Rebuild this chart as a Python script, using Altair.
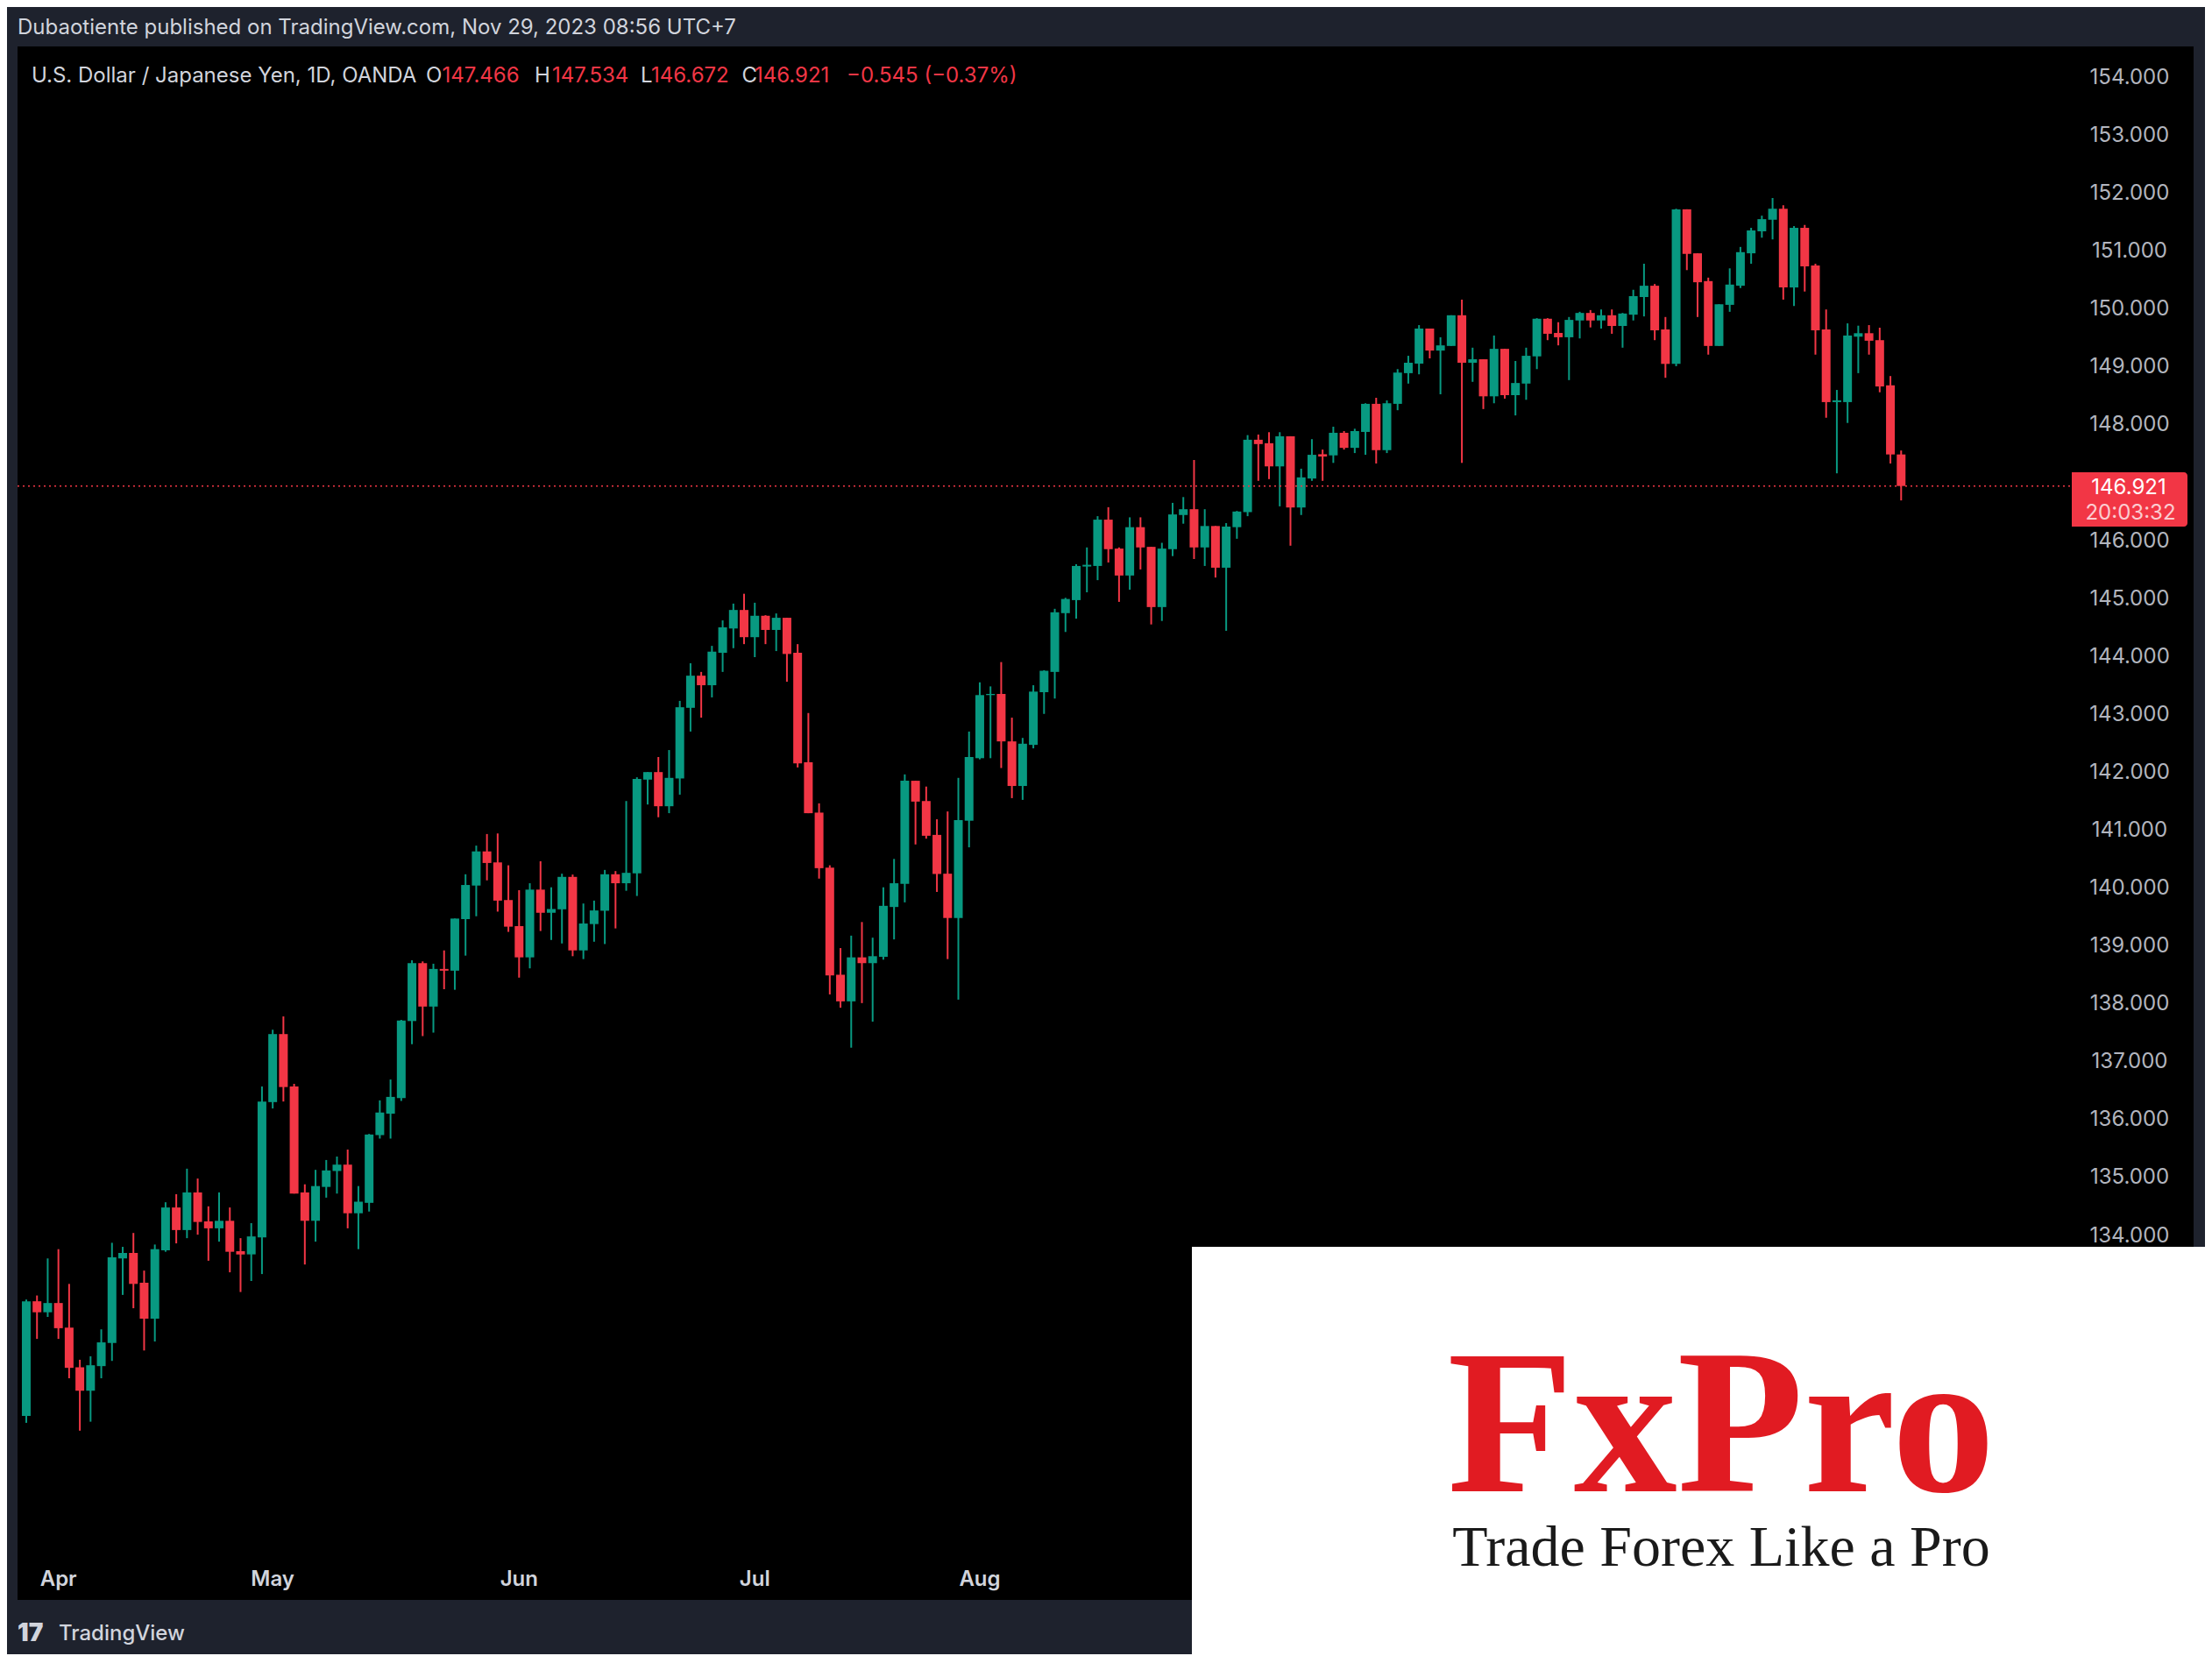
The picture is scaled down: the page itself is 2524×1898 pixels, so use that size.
import altair as alt
import pandas as pd

# ---------------- data (USD/JPY daily, OANDA) ----------------
opens = [130.86, 132.84, 132.65, 132.81, 132.385, 131.70, 131.295, 131.72, 132.12, 133.58,
         133.675, 133.16, 132.54, 133.72, 134.46, 134.07, 134.72, 134.22, 134.10, 134.23,
         133.705, 133.65, 133.945, 136.28, 137.455, 136.55, 134.72, 134.23, 134.815, 135.09,
         135.20, 134.36, 134.54, 135.71, 136.08, 136.35, 137.68, 138.68, 137.93, 138.58,
         138.55, 139.44, 140.02, 140.61, 140.42, 139.77, 139.32, 138.78, 139.95, 139.55,
         139.61, 140.17, 138.90, 139.355, 139.585, 140.215, 140.06, 140.23, 141.85, 141.98,
         141.39, 141.87, 143.09, 143.645, 143.48, 144.04, 144.46, 144.78, 144.31, 144.68,
         144.435, 144.645, 144.04, 142.15, 141.28, 140.33, 138.48, 138.02, 138.78, 138.68,
         138.79, 139.65, 140.05, 141.83, 141.48, 140.895, 140.225, 139.46, 141.14, 142.22,
         143.31, 143.33, 142.51, 141.74, 142.45, 143.36, 143.71, 144.725, 144.95, 145.53,
         145.54, 146.34, 145.84, 145.375, 146.21, 145.87, 144.83, 145.83, 146.42, 146.52,
         145.86, 146.23, 145.51, 146.21, 146.47, 147.72, 147.66, 147.26, 147.78, 146.55,
         147.05, 147.47, 147.45, 147.84, 147.58, 147.855, 148.34, 147.54, 148.34, 148.87,
         149.035, 149.64, 149.26, 149.34, 149.87, 149.05, 149.11, 148.47, 149.29, 148.49,
         148.69, 149.16, 149.81, 149.565, 149.49, 149.78, 149.91, 149.78, 149.87, 149.685,
         149.88, 150.185, 150.38, 149.625, 149.03, 151.70, 150.94, 150.46, 149.34, 150.05,
         150.38, 150.94, 151.32, 151.52, 151.71, 150.35, 151.38, 150.73, 149.625, 148.37,
         148.37, 149.50, 149.56, 149.44, 148.66, 147.466]
highs = [132.87, 132.94, 133.58, 133.74, 133.14, 131.83, 131.89, 132.355, 133.85, 133.78,
         134.02, 133.37, 133.82, 134.55, 134.69, 135.13, 134.96, 134.48, 134.72, 134.46,
         133.93, 134.19, 136.55, 137.53, 137.76, 136.595, 134.86, 135.11, 135.28, 135.34,
         135.46, 134.83, 135.73, 136.31, 136.67, 137.70, 138.73, 138.71, 138.67, 138.90,
         139.45, 140.215, 140.71, 140.91, 140.92, 140.37, 139.94, 140.06, 140.44, 139.99,
         140.225, 140.21, 139.71, 139.76, 140.29, 140.27, 141.48, 141.89, 141.98, 142.24,
         142.36, 143.21, 143.86, 143.71, 144.16, 144.60, 144.89, 145.06, 144.905, 144.69,
         144.72, 144.645, 144.19, 143.00, 141.44, 140.37, 138.94, 139.155, 139.39, 139.12,
         139.99, 140.48, 141.94, 141.83, 141.73, 141.165, 141.30, 141.88, 142.68, 143.53,
         143.46, 143.88, 142.92, 142.57, 143.48, 143.74, 144.80, 144.99, 145.57, 145.86,
         146.40, 146.555, 145.86, 146.38, 146.38, 145.87, 145.94, 146.63, 146.73, 147.37,
         146.52, 146.23, 146.28, 146.49, 147.80, 147.81, 147.85, 147.85, 147.78, 147.22,
         147.73, 147.55, 147.945, 147.87, 147.91, 148.35, 148.445, 148.40, 148.94, 149.17,
         149.70, 149.64, 149.49, 149.87, 150.14, 149.31, 149.11, 149.52, 149.29, 149.08,
         149.31, 149.82, 149.82, 149.75, 149.84, 149.93, 149.96, 149.97, 149.97, 149.91,
         150.31, 150.76, 150.41, 149.84, 151.71, 151.70, 150.94, 150.52, 150.06, 150.68,
         151.05, 151.38, 151.59, 151.895, 151.77, 151.41, 151.43, 150.76, 149.97, 148.58,
         149.73, 149.69, 149.70, 149.655, 148.82, 147.534]
lows = [130.74, 132.19, 132.57, 132.19, 131.51, 130.605, 130.76, 131.51, 131.81, 132.95,
        132.72, 131.99, 132.145, 133.695, 133.84, 133.93, 133.99, 133.54, 133.87, 133.34,
        133.00, 133.19, 133.31, 136.17, 136.29, 134.70, 133.475, 133.87, 134.63, 134.70,
        134.10, 133.74, 134.39, 135.65, 135.65, 136.30, 137.28, 137.42, 137.48, 138.23,
        138.22, 138.81, 139.49, 140.11, 139.57, 139.22, 138.43, 138.59, 139.235, 139.08,
        139.02, 138.80, 138.75, 139.05, 139.01, 139.28, 139.93, 139.84, 141.42, 141.20,
        141.27, 141.59, 142.68, 142.92, 143.27, 143.71, 144.12, 144.19, 143.965, 144.19,
        144.07, 143.54, 142.06, 141.27, 140.14, 138.14, 137.91, 137.22, 137.99, 137.67,
        138.74, 139.09, 139.73, 140.73, 140.83, 139.91, 138.75, 138.05, 140.68, 142.20,
        142.22, 142.05, 141.53, 141.50, 142.39, 142.985, 143.25, 144.40, 144.63, 145.085,
        145.295, 145.60, 144.92, 145.13, 145.48, 144.53, 144.59, 145.71, 146.27, 145.66,
        145.54, 145.34, 144.42, 146.01, 146.40, 147.01, 147.04, 146.57, 145.89, 146.42,
        147.01, 147.01, 147.32, 147.55, 147.49, 147.46, 147.31, 147.49, 148.23, 148.69,
        148.85, 149.125, 148.505, 149.34, 147.32, 148.72, 148.25, 148.35, 148.43, 148.14,
        148.41, 148.94, 149.44, 149.35, 148.75, 149.47, 149.66, 149.64, 149.55, 149.31,
        149.78, 149.85, 149.44, 148.79, 148.99, 150.65, 149.84, 149.19, 149.34, 149.93,
        150.34, 150.76, 151.21, 151.18, 150.14, 150.03, 150.28, 149.19, 148.10, 147.14,
        148.01, 148.87, 149.19, 148.54, 147.31, 146.672]
closes = [132.84, 132.65, 132.81, 132.375, 131.69, 131.295, 131.735, 132.13, 133.60, 133.675,
          133.14, 132.54, 133.74, 134.46, 134.07, 134.72, 134.21, 134.10, 134.23, 133.695,
          133.65, 133.96, 136.29, 137.455, 136.54, 134.70, 134.23, 134.83, 135.10, 135.20,
          134.36, 134.56, 135.72, 136.10, 136.37, 137.69, 138.68, 137.93, 138.58, 138.55,
          139.45, 140.03, 140.61, 140.41, 139.76, 139.31, 138.78, 139.95, 139.55, 139.615,
          140.17, 138.90, 139.365, 139.59, 140.215, 140.06, 140.24, 141.86, 141.98, 141.39,
          141.88, 143.10, 143.645, 143.48, 144.06, 144.48, 144.78, 144.31, 144.68, 144.435,
          144.645, 144.02, 142.13, 141.27, 140.32, 138.47, 138.02, 138.78, 138.68, 138.80,
          139.67, 140.06, 141.83, 141.47, 140.88, 140.22, 139.46, 141.15, 142.24, 143.31,
          143.33, 142.51, 141.74, 142.47, 143.37, 143.73, 144.74, 144.97, 145.54, 145.56,
          146.34, 145.83, 145.375, 146.21, 145.86, 144.83, 145.84, 146.43, 146.52, 145.86,
          146.23, 145.51, 146.22, 146.48, 147.72, 147.645, 147.26, 147.78, 146.55, 147.07,
          147.46, 147.43, 147.84, 147.58, 147.87, 148.34, 147.54, 148.35, 148.88, 149.05,
          149.64, 149.26, 149.35, 149.87, 149.05, 149.11, 148.47, 149.29, 148.49, 148.70,
          149.17, 149.81, 149.55, 149.49, 149.79, 149.91, 149.78, 149.87, 149.685, 149.90,
          150.20, 150.38, 149.61, 149.03, 151.70, 150.93, 150.44, 149.34, 150.06, 150.40,
          150.96, 151.335, 151.53, 151.71, 150.35, 151.38, 150.715, 149.61, 148.37, 148.40,
          149.52, 149.56, 149.43, 148.64, 147.466, 146.921]

month_names = ["Apr", "May", "Jun", "Jul", "Aug", "Sep", "Oct", "Nov"]
month_starts = [3, 23, 46, 68, 89, 112, 133, 155]   # bar index of first trading day
# 147.000 is hidden behind the last-price tag in the reference
price_ticks = [134, 135, 136, 137, 138, 139, 140, 141, 142, 143, 144,
               145, 146, 148, 149, 150, 151, 152, 153, 154]

title_text = "Dubaotiente published on TradingView.com, Nov 29, 2023 08:56 UTC+7"
symbol_text = "U.S. Dollar / Japanese Yen, 1D, OANDA"
timer_text = "20:03:32"

# ---------------- styling ----------------
GREEN = "#089981"
RED = "#f23645"
FRAME = "#1e222d"
UI_FONT = "Inter"
W, H = 2483, 1773

xs = alt.Scale(domain=[-0.4074, 201.89], nice=False, zero=False)
ys = alt.Scale(domain=[127.682, 154.513], nice=False, zero=False)

df = pd.DataFrame({"i": list(range(len(opens))), "open": opens, "high": highs,
                   "low": lows, "close": closes})
df["dir"] = ["up" if c >= o else "down" for o, c in zip(opens, closes)]
col = alt.Color("dir:N", scale=alt.Scale(domain=["up", "down"], range=[GREEN, RED]), legend=None)

wicks = alt.Chart(df).mark_rule(strokeWidth=2).encode(
    x=alt.X("i:Q", scale=xs, axis=None),
    y=alt.Y("low:Q", scale=ys, axis=None),
    y2="high:Q",
    color=col,
)
bodies = alt.Chart(df).mark_bar(size=10).encode(
    x=alt.X("i:Q", scale=xs, axis=None),
    y=alt.Y("open:Q", scale=ys, axis=None),
    y2="close:Q",
    color=col,
)

last = closes[-1]
prev = closes[-2]
chg = last - prev
pct = chg / prev * 100

def fmt_signed(v, dec):
    s = f"{abs(v):.{dec}f}"
    return ("\u2212" if v < 0 else "+") + s

last_df = pd.DataFrame({"p": [last], "label": [f"{last:.3f}"]})

price_line = alt.Chart(last_df).mark_rule(strokeDash=[2, 4], strokeWidth=1.5, color=RED).encode(
    y=alt.Y("p:Q", scale=ys, axis=None), x=alt.value(0), x2=alt.value(2344))

tick_df = pd.DataFrame({"p": price_ticks, "label": [f"{p:.3f}" for p in price_ticks]})
ylabels = alt.Chart(tick_df).mark_text(font=UI_FONT, fontSize=24, color="#b2b5be",
                                       align="center", baseline="middle", dy=2).encode(
    y=alt.Y("p:Q", scale=ys, axis=None), x=alt.value(2410), text="label:N")

tag_box = alt.Chart(last_df).mark_rect(color=RED, cornerRadiusTopRight=4,
                                       cornerRadiusBottomRight=4).encode(
    x=alt.value(2344), x2=alt.value(2476), y=alt.value(486), y2=alt.value(548))
tag_price = alt.Chart(last_df).mark_text(font=UI_FONT, fontSize=24, color="#ffffff",
                                         align="center", baseline="middle", dy=2).encode(
    y=alt.Y("p:Q", scale=ys, axis=None), x=alt.value(2409), text="label:N")
tag_timer = alt.Chart(last_df).mark_text(font=UI_FONT, fontSize=24, color="#ffffff", opacity=0.75,
                                         align="center", baseline="alphabetic").encode(
    y=alt.value(540), x=alt.value(2411), text=alt.value(timer_text))

month_df = pd.DataFrame({"i": month_starts, "m": month_names})
months = alt.Chart(month_df).mark_text(font=UI_FONT, fontSize=24, fontWeight=600, color="#d1d4dc",
                                       align="center", baseline="alphabetic").encode(
    x=alt.X("i:Q", scale=xs, axis=None), y=alt.value(1757), text="m:N")

# header line: labels grey, values red
header_texts = [symbol_text, "O", f"{opens[-1]:.3f}", "H", f"{highs[-1]:.3f}", "L",
                f"{lows[-1]:.3f}", "C", f"{last:.3f}",
                f"{fmt_signed(chg, 3)} ({fmt_signed(pct, 2)}%)"]
header_colors = ["#d1d4dc", "#d1d4dc", RED, "#d1d4dc", RED, "#d1d4dc", RED, "#d1d4dc", RED, RED]
header_x = [16, 466, 484.6, 590, 610, 711, 723, 826.6, 841, 946]   # layout
hdr_df = pd.DataFrame({"t": header_texts, "c": header_colors, "px": header_x})
header = alt.Chart(hdr_df).mark_text(font=UI_FONT, fontSize=24, align="left",
                                     baseline="alphabetic").encode(
    x=alt.X("px:Q", scale=None), y=alt.value(41), text="t:N", color=alt.Color("c:N", scale=None))

one = pd.DataFrame({"k": [0]})
title = alt.Chart(one).mark_text(font=UI_FONT, fontSize=24, color="#d1d4dc", align="left",
                                 baseline="alphabetic").encode(
    x=alt.value(0), y=alt.value(-14), text=alt.value(title_text))

footer_icon = alt.Chart(one).mark_text(font=UI_FONT, fontSize=28, fontWeight=900, color="#d1d4dc",
                                       align="left", baseline="alphabetic").encode(
    x=alt.value(0), y=alt.value(1820), text=alt.value("17"))
footer_text = alt.Chart(one).mark_text(font=UI_FONT, fontSize=24, fontWeight=500, color="#d1d4dc",
                                       align="left", baseline="alphabetic").encode(
    x=alt.value(47), y=alt.value(1819), text=alt.value("TradingView"))

logo_box = alt.Chart(one).mark_rect(color="#ffffff").encode(
    x=alt.value(1340), x2=alt.value(2700), y=alt.value(1370), y2=alt.value(2000))
logo_main = alt.Chart(one).mark_text(font="Liberation Serif", fontSize=236, fontWeight="bold",
                                     color="#e11b22", align="center", baseline="alphabetic").encode(
    x=alt.value(1944), y=alt.value(1649), text=alt.value("FxPro"))
logo_tag = alt.Chart(one).mark_text(font="Liberation Serif", fontSize=66, color="#1a1a1a",
                                    align="center", baseline="alphabetic").encode(
    x=alt.value(1944), y=alt.value(1734), text=alt.value("Trade Forex Like a Pro"))

chart = alt.layer(
    wicks, bodies, price_line, ylabels, tag_box, tag_price, tag_timer, months,
    header, title, footer_icon, footer_text, logo_box, logo_main, logo_tag,
).properties(
    width=W, height=H, background=FRAME,
    padding={"left": 12, "top": 45, "right": 13, "bottom": 62},
    autosize=alt.AutoSizeParams(type="none"),
).configure_view(fill="#000000", strokeWidth=0)

chart.save("out.html", embed_options={"renderer": "svg", "actions": False})
